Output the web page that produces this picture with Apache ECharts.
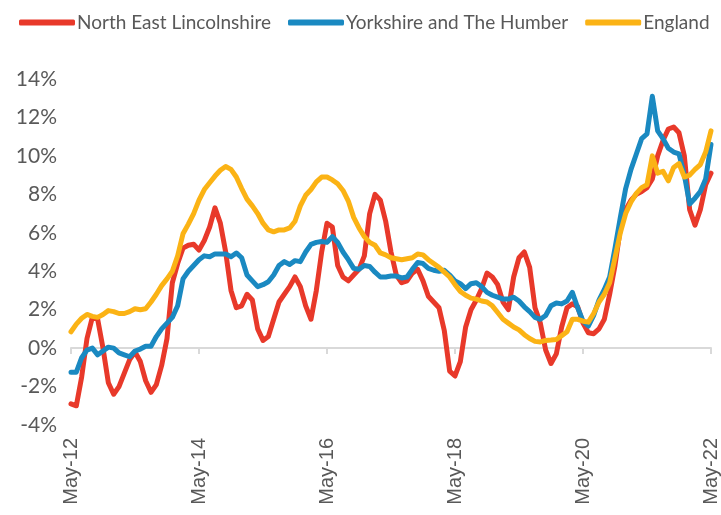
<!DOCTYPE html>
<html>
<head>
<meta charset="utf-8">
<script src="https://cdn.jsdelivr.net/npm/echarts@6/dist/echarts.min.js"></script>
<style>
html,body{margin:0;padding:0;background:#fff;}
#c{width:721px;height:515px;}
</style>
</head>
<body>
<div id="c"></div>
<script>
// Monthly, May-12 .. May-22 (121 points)
const monthNames = ['Jan','Feb','Mar','Apr','May','Jun','Jul','Aug','Sep','Oct','Nov','Dec'];
const categories = [];
for (let k = 0; k < 121; k++) {
  const m = (4 + k) % 12;
  const y = 12 + Math.floor((4 + k) / 12);
  categories.push(monthNames[m] + '-' + String(y).padStart(2, '0'));
}
const seriesNames = ['North East Lincolnshire', 'Yorkshire and The Humber', 'England'];
const northEastLincolnshire = [
  -2.9,-3.0,-1.5,0.5,1.6,1.5,0.0,-1.8,-2.4,-2.0,
  -1.3,-0.6,-0.2,-0.7,-1.7,-2.3,-1.9,-0.9,0.5,3.4,
  4.4,5.2,5.35,5.4,5.1,5.6,6.3,7.3,6.5,5.0,
  3.0,2.1,2.2,2.8,2.5,1.0,0.4,0.6,1.5,2.4,
  2.8,3.2,3.7,3.2,2.2,1.5,3.0,5.0,6.5,6.3,
  4.3,3.7,3.5,3.8,4.1,4.8,7.0,8.0,7.7,6.6,
  5.0,3.8,3.4,3.5,3.9,4.1,3.5,2.7,2.4,2.1,
  0.9,-1.2,-1.45,-0.7,1.1,2.0,2.5,3.1,3.9,3.7,
  3.3,2.4,2.0,3.7,4.7,5.0,4.2,2.1,1.3,-0.1,
  -0.8,-0.3,1.1,2.1,2.3,2.15,1.3,0.8,0.75,1.0,
  1.5,2.8,4.3,6.2,7.2,7.7,8.0,8.15,8.35,8.8,
  10.0,10.8,11.4,11.5,11.2,10.0,7.2,6.4,7.2,8.5,
  9.1
];
const yorkshireHumber = [
  -1.25,-1.25,-0.5,-0.1,0.0,-0.35,-0.15,0.05,0.0,-0.25,
  -0.35,-0.45,-0.15,-0.05,0.1,0.1,0.6,1.0,1.3,1.6,
  2.2,3.6,4.0,4.3,4.6,4.8,4.75,4.9,4.9,4.9,
  4.75,4.95,4.7,3.8,3.5,3.2,3.3,3.45,3.8,4.3,
  4.5,4.35,4.55,4.5,5.0,5.4,5.5,5.55,5.5,5.8,
  5.5,5.0,4.6,4.15,4.1,4.3,4.25,3.95,3.7,3.7,
  3.75,3.75,3.65,3.7,4.1,4.45,4.4,4.15,4.05,4.0,
  4.05,3.8,3.5,3.35,3.1,3.35,3.4,3.2,2.9,2.75,
  2.65,2.55,2.55,2.65,2.45,2.15,1.9,1.6,1.5,1.7,
  2.2,2.35,2.3,2.45,2.9,2.1,1.4,1.15,1.7,2.5,
  3.05,3.7,5.2,6.8,8.3,9.3,10.1,10.9,11.15,13.1,
  11.3,10.9,10.4,10.2,10.1,9.0,7.5,7.8,8.15,8.8,
  10.6
];
const england = [
  0.85,1.25,1.55,1.75,1.65,1.6,1.75,1.95,1.9,1.8,
  1.8,1.9,2.05,2.0,2.05,2.4,2.8,3.25,3.6,4.0,
  4.8,5.95,6.45,7.0,7.7,8.25,8.6,8.95,9.25,9.45,
  9.3,8.9,8.3,7.75,7.4,7.0,6.5,6.15,6.05,6.15,
  6.15,6.25,6.6,7.4,7.95,8.25,8.65,8.9,8.9,8.75,
  8.55,8.2,7.65,6.8,6.25,5.8,5.5,5.35,4.95,4.85,
  4.7,4.65,4.6,4.65,4.7,4.9,4.85,4.6,4.4,4.2,
  3.95,3.7,3.3,2.95,2.75,2.6,2.55,2.45,2.4,2.2,
  1.85,1.5,1.3,1.1,0.95,0.7,0.5,0.35,0.32,0.4,
  0.42,0.45,0.65,0.85,1.5,1.5,1.4,1.35,1.8,2.4,
  2.8,3.4,4.7,6.0,7.0,7.6,8.05,8.35,8.5,10.0,
  9.1,9.2,8.7,9.4,9.6,8.9,9.0,9.3,9.55,10.2,
  11.3
];
const yTicks = { min: -4, max: 14, interval: 2 };
const colors = ['#E8392A', '#1A89C1', '#FBB315'];

const chart = echarts.init(document.getElementById('c'), null, { renderer: 'canvas' });
const values = [northEastLincolnshire, yorkshireHumber, england];
chart.setOption({
  animation: false,
  color: colors,
  legend: {
    left: 14, top: 8, width: 707,
    icon: 'roundRect',
    itemWidth: 56, itemHeight: 6, itemGap: 17,
    textStyle: { color: '#595959', fontFamily: 'Lato', fontSize: 19, padding: [0, 0, 0, -3] },
    data: seriesNames
  },
  grid: { left: 71, right: 8, top: 79, bottom: 90, containLabel: false },
  xAxis: [
    {
      type: 'category', data: categories, boundaryGap: false,
      axisLine: { show: false, onZero: false },
      axisTick: { show: false },
      axisLabel: { interval: 23, rotate: 90, margin: 13, color: '#595959', fontFamily: 'Liberation Sans', fontSize: 20 },
      splitLine: { show: false }
    },
    {
      type: 'category', data: categories, boundaryGap: false, position: 'bottom',
      axisLine: { show: true, onZero: true, lineStyle: { color: '#d9d9d9', width: 2 } },
      axisTick: { show: true, interval: 23, length: 6, lineStyle: { color: '#d9d9d9', width: 2 } },
      axisLabel: { show: false },
      splitLine: { show: false }
    }
  ],
  yAxis: {
    type: 'value', min: yTicks.min, max: yTicks.max, interval: yTicks.interval,
    axisLine: { show: false }, axisTick: { show: false }, splitLine: { show: false },
    axisLabel: { formatter: v => v + '%', color: '#595959', fontFamily: 'Lato', fontSize: 21, margin: 14 }
  },
  series: seriesNames.map((n, k) => ({
    name: n, type: 'line', data: values[k], showSymbol: false, symbol: 'none',
    lineStyle: { width: 5, color: colors[k], join: 'round', cap: 'round' },
    itemStyle: { color: colors[k] }
  }))
});
</script>
</body>
</html>
